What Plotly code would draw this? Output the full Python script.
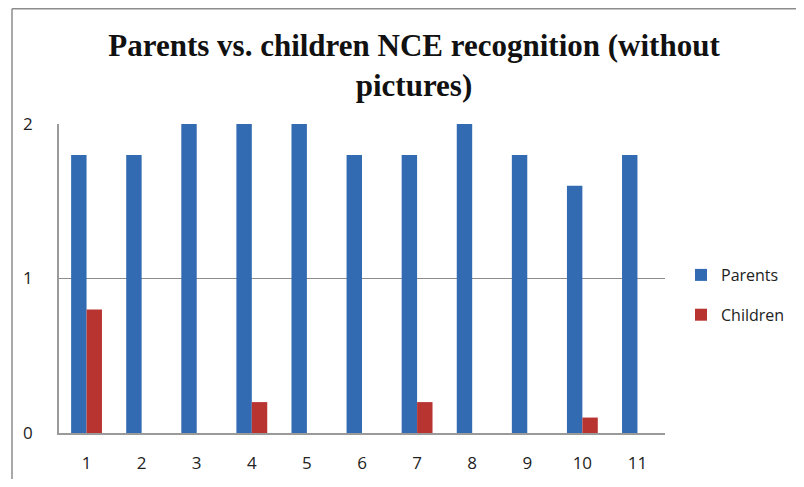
import plotly.graph_objects as go

categories = ["1", "2", "3", "4", "5", "6", "7", "8", "9", "10", "11"]
parents = [1.8, 1.8, 2, 2, 2, 1.8, 1.8, 2, 1.8, 1.6, 1.8]
children = [0.8, 0, 0, 0.2, 0, 0, 0.2, 0, 0, 0.1, 0]
y_ticks = [0, 1, 2]

# page body has an 8px default margin; figure coordinates = page coordinates - 8
OFF = 8
W, H = 804 - 2 * OFF, 487 - 2 * OFF
ml = 59 - OFF
mt = 124 - OFF
mr = W - (665 - OFF)
mb = H - (433 - OFF)
pw, ph = W - ml - mr, H - mt - mb

fig = go.Figure()
fig.add_trace(go.Bar(x=categories, y=parents, name="Parents", legendgroup="p",
                     marker=dict(color="#336bb3", line=dict(width=0))))
fig.add_trace(go.Bar(x=categories, y=children, name="Children", legendgroup="c",
                     marker=dict(color="#b83431", line=dict(width=0))))

def px_x(page_x):
    return (page_x - OFF - ml) / pw

def px_y(page_y):
    return (H - mb - (page_y - OFF)) / ph

# outer chart frame (top and left edges visible)
fig.add_shape(type="line", xref="paper", yref="paper",
              x0=px_x(12), x1=px_x(820), y0=px_y(8.7), y1=px_y(8.7),
              line=dict(color="#8c8c8c", width=1.5))
fig.add_shape(type="line", xref="paper", yref="paper",
              x0=px_x(12), x1=px_x(12), y0=px_y(8.7), y1=px_y(500),
              line=dict(color="#8c8c8c", width=1.5))

fig.update_layout(
    width=W, height=H,
    margin=dict(l=ml, r=mr, t=mt, b=mb, autoexpand=False),
    paper_bgcolor="white", plot_bgcolor="white",
    barmode="group", bargap=0.44, bargroupgap=0,
    title=dict(text="<b>Parents vs. children NCE recognition (without<br>pictures)</b>",
               x=(414 - OFF) / W, xanchor="center", xref="container",
               y=1 - 48 / H, yanchor="top", yref="container",
               font=dict(family="Liberation Serif", size=31, color="#111111")),
    font=dict(family="Open Sans", color="#222222"),
    legend=dict(x=px_x(681), xanchor="left", y=px_y(295), yanchor="middle",
                font=dict(size=16, color="#222222"), traceorder="grouped",
                tracegroupgap=16, bgcolor="rgba(0,0,0,0)"),
    xaxis=dict(type="category", showgrid=False, showline=True, linecolor="#9a9a9a",
               linewidth=1.5, ticks="", tickfont=dict(size=17, color="#222222"),
               ticklabelstandoff=14, automargin=False),
    yaxis=dict(range=[0, 2], tickvals=y_ticks, showgrid=True, gridcolor="#8c8c8c",
               gridwidth=1, showline=True, linecolor="#9a9a9a", linewidth=1.5,
               mirror=False, ticks="", tickfont=dict(size=17, color="#222222"),
               ticklabelstandoff=21, zeroline=False, automargin=False),
)

fig.write_html("out.html")
